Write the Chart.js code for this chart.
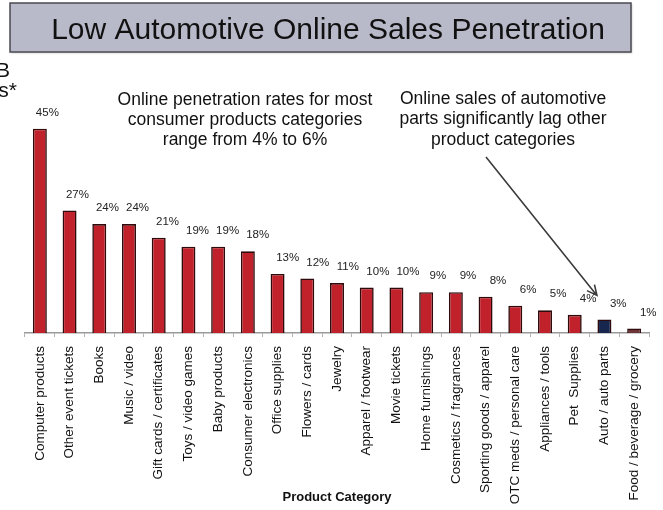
<!DOCTYPE html>
<html>
<head>
<meta charset="utf-8">
<script src="https://cdn.jsdelivr.net/npm/chart.js@4/dist/chart.umd.min.js"></script>
<style>
  html, body { margin: 0; padding: 0; background: #fff; }
  #wrap { width: 663px; height: 510px; position: relative; }
</style>
</head>
<body>
<div id="wrap"><canvas id="c" width="663" height="510"></canvas></div>
<script>
// Online penetration by product category (percent of category sales)
const categories = [
  'Computer products', 'Other event tickets', 'Books', 'Music / video',
  'Gift cards / certificates', 'Toys / video games', 'Baby products',
  'Consumer electronics', 'Office supplies', 'Flowers / cards', 'Jewelry',
  'Apparel / footwear', 'Movie tickets', 'Home furnishings',
  'Cosmetics / fragrances', 'Sporting goods / apparel',
  'OTC meds / personal care', 'Appliances / tools', 'Pet  Supplies',
  'Auto / auto parts', 'Food / beverage / grocery'
];
const penetration = [45, 27, 24, 24, 21, 19, 19, 18, 13, 12, 11, 10, 10, 9, 9, 8, 6, 5, 4, 3, 1];
const valueLabels = penetration.map(v => v + '%');
const highlightCategory = 'Auto / auto parts';
const groceryCategory = 'Food / beverage / grocery';

const titleText = 'Low Automotive Online Sales Penetration';
const noteLeft = ['Online penetration rates for most', 'consumer products categories', 'range from 4% to 6%'];
const noteRight = ['Online sales of automotive', 'parts significantly lag other', 'product categories'];
const axisTitle = 'Product Category';

const FONT = '"Liberation Sans", Arial, Helvetica, sans-serif';

function fillFor(cat) {
  if (cat === highlightCategory) return '#16264f';
  if (cat === groceryCategory) return '#6e3436';
  return '#c0212b';
}

// Slide decorations: title box, callouts, arrow, axis caption
const slideDecor = {
  id: 'slideDecor',
  beforeDraw(chart) {
    const ctx = chart.ctx;
    ctx.save();
    ctx.fillStyle = '#ffffff';
    ctx.fillRect(0, 0, chart.width, chart.height);
    // title box
    ctx.shadowColor = 'rgba(0,0,0,0.25)';
    ctx.shadowOffsetX = 1; ctx.shadowOffsetY = 1; ctx.shadowBlur = 2;
    ctx.fillStyle = '#b9bac9';
    ctx.fillRect(10, 3, 621, 49);
    ctx.shadowColor = 'transparent';
    ctx.strokeStyle = '#4a4a50';
    ctx.lineWidth = 1.5;
    ctx.strokeRect(10, 3, 621, 49);
    ctx.fillStyle = '#111';
    ctx.font = '30px ' + FONT;
    ctx.textAlign = 'center';
    ctx.textBaseline = 'alphabetic';
    ctx.fillText(titleText, 328, 38.5);
    // clipped text at the left edge
    ctx.font = '21px ' + FONT;
    ctx.textAlign = 'right';
    ctx.fillText('B', 10, 77);
    ctx.fillText('s*', 17, 97);
    // callouts
    ctx.font = '17.5px ' + FONT;
    ctx.textAlign = 'center';
    ctx.textBaseline = 'middle';
    noteLeft.forEach((t, i) => ctx.fillText(t, 245, 100 + i * 20));
    noteRight.forEach((t, i) => ctx.fillText(t, 503, 99 + i * 20.5));
    // axis caption, centred under the plot area
    const ca = chart.chartArea;
    ctx.font = 'bold 13px ' + FONT;
    ctx.fillText(axisTitle, (ca.left + ca.right) / 2, 497);
    ctx.restore();
  },
  afterDatasetsDraw(chart) {
    const ctx = chart.ctx;
    const meta = chart.getDatasetMeta(0);
    ctx.save();
    // value labels above bars
    ctx.font = '11.5px ' + FONT;
    ctx.fillStyle = '#222';
    ctx.textAlign = 'center';
    ctx.textBaseline = 'middle';
    meta.data.forEach((bar, i) => {
      ctx.fillText(valueLabels[i], bar.x + 7.5 + i * 0.33, bar.y - 16);
    });
    // arrow pointing at the auto parts figure
    const ai = categories.indexOf(highlightCategory);
    const target = meta.data[ai];
    const x2 = target.x - 7.5, y2 = target.y - 24;
    const x1 = 486, y1 = 157;
    ctx.strokeStyle = '#3c3c3c';
    ctx.lineWidth = 1.6;
    ctx.beginPath();
    ctx.moveTo(x1, y1);
    ctx.lineTo(x2, y2);
    const ang = Math.atan2(y2 - y1, x2 - x1);
    const hl = 11;
    ctx.moveTo(x2 - hl * Math.cos(ang - 0.45), y2 - hl * Math.sin(ang - 0.45));
    ctx.lineTo(x2, y2);
    ctx.lineTo(x2 - hl * Math.cos(ang + 0.45), y2 - hl * Math.sin(ang + 0.45));
    ctx.stroke();
    ctx.restore();
  }
};

new Chart(document.getElementById('c'), {
  type: 'bar',
  data: {
    labels: categories,
    datasets: [{
      data: penetration,
      backgroundColor: categories.map(fillFor),
      borderColor: '#2e0a0c',
      borderWidth: 1.6,
      barPercentage: 0.47,
      categoryPercentage: 1.0
    }]
  },
  options: {
    responsive: false,
    animation: false,
    devicePixelRatio: 1,
    layout: { padding: { left: 25, right: 14, top: 106, bottom: 0 } },
    plugins: { legend: { display: false }, tooltip: { enabled: false } },
    scales: {
      y: { display: false, min: 0, max: 50 },
      x: {
        afterFit(scale) { scale.height = 177; },
        border: { display: true, color: '#9a9a9a', width: 1.5 },
        grid: { display: true, drawOnChartArea: false, drawTicks: true, tickLength: 4, color: '#b0b0b0', offset: true },
        ticks: {
          autoSkip: false, minRotation: 90, maxRotation: 90, padding: 9,
          color: '#111', font: { family: FONT, size: 13.5 }
        }
      }
    }
  },
  plugins: [slideDecor]
});
</script>
</body>
</html>
